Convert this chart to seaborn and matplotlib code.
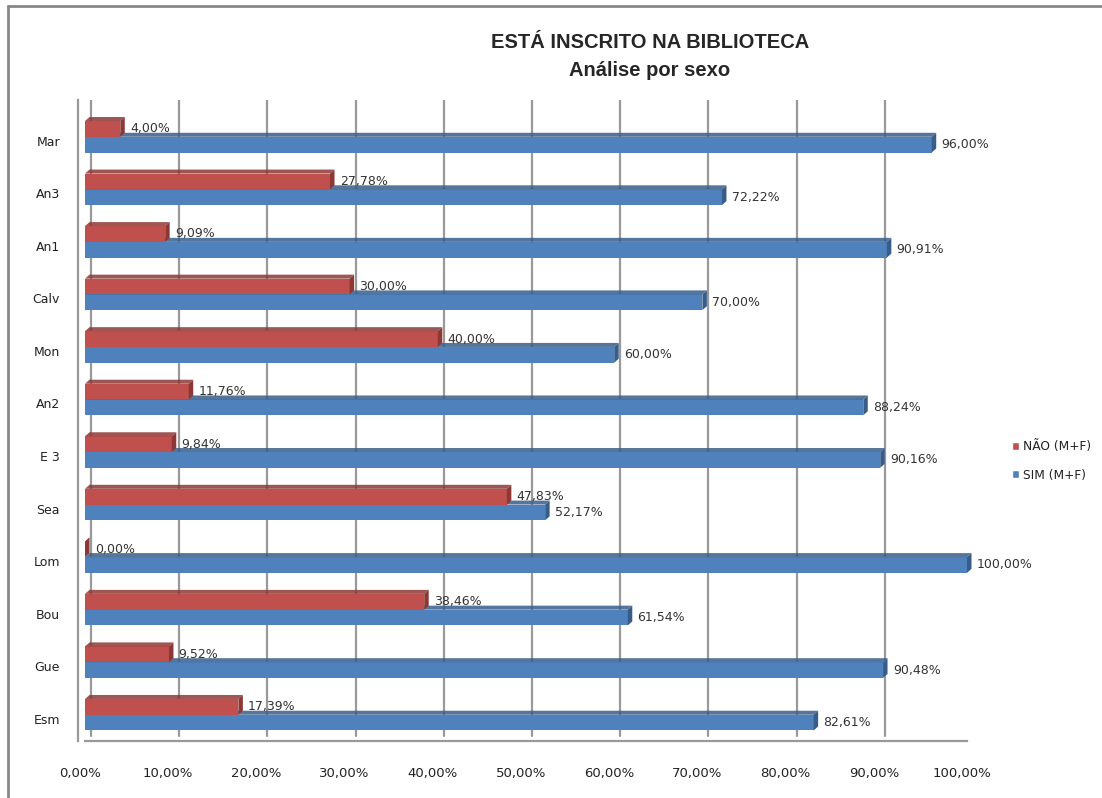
import matplotlib
matplotlib.use("Agg")
import matplotlib.pyplot as plt
import matplotlib.transforms as mtransforms
from matplotlib.patches import Polygon
from matplotlib.lines import Line2D
import seaborn as sns
import pandas as pd
import numpy as np

categories = ["Mar", "An3", "An1", "Calv", "Mon", "An2", "E 3", "Sea", "Lom", "Bou", "Gue", "Esm"]
nao_values = [4.00, 27.78, 9.09, 30.00, 40.00, 11.76, 9.84, 47.83, 0.00, 38.46, 9.52, 17.39]
sim_values = [96.00, 72.22, 90.91, 70.00, 60.00, 88.24, 90.16, 52.17, 100.00, 61.54, 90.48, 82.61]
series_names = ["NÃO (M+F)", "SIM (M+F)"]
x_ticks = [0, 10, 20, 30, 40, 50, 60, 70, 80, 90, 100]
title_lines = ["ESTÁ INSCRITO NA BIBLIOTECA", "Análise por sexo"]

df = pd.DataFrame({
    "cat": categories * 2,
    "val": nao_values + sim_values,
    "serie": [series_names[0]] * len(categories) + [series_names[1]] * len(categories),
})

sns.set_style("white")
plt.rcParams["font.family"] = ["DejaVu Sans"]

colors = {series_names[0]: "#C0504D", series_names[1]: "#4F81BD"}
side_colors = {series_names[0]: "#8C3836", series_names[1]: "#385D8A"}

W, H = 1102, 798
fig = plt.figure(figsize=(W / 100, H / 100), dpi=100)
ax = fig.add_axes([85 / W, 1 - 741 / H, (967 - 85) / W, (741 - 100) / H])

sns.barplot(data=df, y="cat", x="val", hue="serie", order=categories,
            hue_order=series_names, palette=colors, orient="h",
            width=0.6, ax=ax, saturation=1, legend=True)

ax.set_xlim(0, 100)
ax.set_ylim(11.5, -0.7)
ax.set_xlabel("")
ax.set_ylabel("")

# 3D-like faces derived from library bar patches
px_x = (967 - 85) / 100.0
px_y = 52.5
dx = 4.5 / px_x
dy = 4.0 / px_y
for cont, name in zip(ax.containers, series_names):
    z = 3 if name == series_names[0] else 2
    for p in cont.patches:
        p.set_zorder(z)
        p.set_edgecolor("none")
        p.set_clip_on(False)
        x0, y0 = p.get_x(), p.get_y()
        w, h = p.get_width(), p.get_height()
        ytop = y0
        ybot = y0 + h
        side = Polygon([(x0 + w, ytop), (x0 + w + dx, ytop - dy),
                        (x0 + w + dx, ybot - dy), (x0 + w, ybot)],
                       closed=True, facecolor=side_colors[name], edgecolor="none",
                       zorder=z, clip_on=False)
        top = Polygon([(x0, ytop), (x0 + w, ytop), (x0 + w + dx, ytop - dy),
                       (x0 + dx, ytop - dy)],
                      closed=True, facecolor=side_colors[name], alpha=0.85,
                      edgecolor="none", zorder=z, clip_on=False)
        ax.add_patch(side)
        ax.add_patch(top)

fmt = lambda v: f"{v:.2f}".replace(".", ",") + "%"
for cont in ax.containers:
    ax.bar_label(cont, labels=[fmt(p.get_width()) for p in cont.patches],
                 padding=7, fontsize=9, color="#333333", zorder=5)

# grid on back wall
ax.set_xticks(x_ticks)
ax.set_xticklabels([f"{t:.2f}".replace(".", ",") + "%" for t in x_ticks])
ax.xaxis.grid(True, color="#999999", linewidth=1.6)
ax.yaxis.grid(False)
ax.set_axisbelow(True)
back = mtransforms.ScaledTranslation(6 / 100, 5 / 100, fig.dpi_scale_trans)
for gl in ax.get_xgridlines():
    gl.set_transform(gl.get_transform() + back)

for s in ["top", "right"]:
    ax.spines[s].set_visible(False)
ax.spines["left"].set_position(("outward", 5))
for s in ["left", "bottom"]:
    ax.spines[s].set_color("#999999")
    ax.spines[s].set_linewidth(1.6)

ax.set_yticks(np.arange(len(categories)))
ax.set_yticklabels(categories)
ax.set_yticks(np.arange(-0.5, len(categories), 1), minor=True)
ax.tick_params(axis="y", which="major", length=0, pad=13, labelsize=9, labelcolor="#222222")
ax.tick_params(axis="y", which="minor", length=4, width=1.6, color="#999999", direction="out")
ax.tick_params(axis="x", which="major", length=4, width=1.6, color="#999999",
               direction="out", pad=15, labelsize=9.5, labelcolor="#222222")
front = mtransforms.ScaledTranslation(-5 / 100, 0, fig.dpi_scale_trans)
for lab in ax.get_xticklabels():
    lab.set_transform(lab.get_transform() + front)
for tk in ax.xaxis.get_major_ticks():
    tk.tick1line.set_transform(tk.tick1line.get_transform() + front)
down = mtransforms.ScaledTranslation(0, -4 / 100, fig.dpi_scale_trans)
for lab in ax.get_yticklabels():
    lab.set_transform(lab.get_transform() + down)

# legend
handles, labels = ax.get_legend_handles_labels()
leg = ax.legend(handles, labels, loc="center left", bbox_to_anchor=(1012 / W, 1 - 461 / H),
                bbox_transform=fig.transFigure, frameon=False, fontsize=8.8,
                handlelength=0.6, handleheight=0.6, handletextpad=0.3, labelspacing=1.25,
                borderaxespad=0, borderpad=0)
for t in leg.get_texts():
    t.set_color("#222222")

# titles
fig.text(650 / W, 1 - 43 / H, title_lines[0], ha="center", va="center",
         fontsize=14.5, fontweight="bold", family="Liberation Sans")
fig.text(650 / W, 1 - 70 / H, title_lines[1], ha="center", va="center",
         fontsize=14.5, fontweight="bold", family="Liberation Sans")

# outer frame
fig.add_artist(Line2D([8 / W, 8 / W], [0, 1 - 6 / H], transform=fig.transFigure,
                      color="#888888", linewidth=2))
fig.add_artist(Line2D([8 / W, 1], [1 - 6 / H, 1 - 6 / H], transform=fig.transFigure,
                      color="#888888", linewidth=2))

fig.savefig("out.png", dpi=100)
